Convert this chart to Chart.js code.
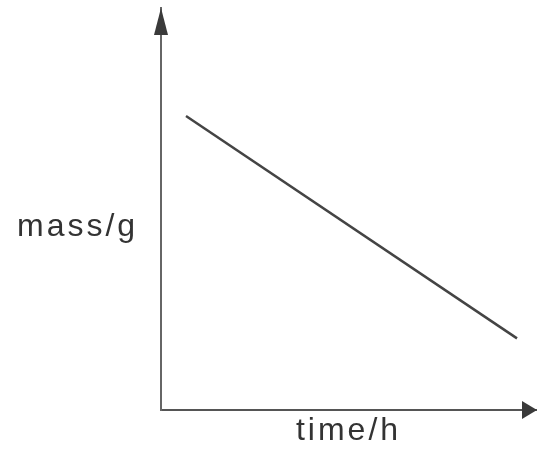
<!DOCTYPE html>
<html>
<head>
<meta charset="utf-8">
<script src="https://cdn.jsdelivr.net/npm/chart.js@4"></script>
<style>
html,body{margin:0;padding:0;background:#fff;}
canvas{display:block;}
</style>
</head>
<body>
<canvas id="c" width="539" height="452"></canvas>
<script>
// Data (qualitative sketch: mass decreasing linearly with time)
const timeValues = [1.0, 14.24];
const massValues = [11.7, 2.85];
const xLabel = 'time/h';
const yLabel = 'mass/g';

const arrowsAndLabel = {
  id: 'arrowsAndLabel',
  beforeDraw(chart) {
    chart.ctx.letterSpacing = '3px';
  },
  afterDraw(chart) {
    const ctx = chart.ctx;
    const xs = chart.scales.x, ys = chart.scales.y;
    const ax = ys.left + ys.width; // y axis position
    const ay = xs.top;             // x axis position
    ctx.save();
    ctx.fillStyle = '#3a3a3a';
    // y arrow
    ctx.beginPath();
    ctx.moveTo(ax, chart.chartArea.top);
    ctx.lineTo(ax - 7, chart.chartArea.top + 27);
    ctx.lineTo(ax + 7, chart.chartArea.top + 27);
    ctx.closePath();
    ctx.fill();
    // x arrow
    ctx.beginPath();
    ctx.moveTo(chart.chartArea.right + 1, ay);
    ctx.lineTo(chart.chartArea.right - 14, ay - 9);
    ctx.lineTo(chart.chartArea.right - 14, ay + 9);
    ctx.closePath();
    ctx.fill();
    // y label (horizontal)
    ctx.letterSpacing = '3px';
    ctx.fillStyle = '#333';
    ctx.font = '32px "Liberation Sans", Arial, sans-serif';
    ctx.textAlign = 'left';
    ctx.textBaseline = 'alphabetic';
    ctx.fillText(yLabel, 17, 236);
    ctx.restore();
  }
};

new Chart(document.getElementById('c'), {
  type: 'scatter',
  data: {
    datasets: [{
      data: timeValues.map((t, i) => ({x: t, y: massValues[i]})),
      showLine: true,
      borderColor: '#444',
      borderWidth: 2.5,
      pointRadius: 0,
      pointHoverRadius: 0
    }]
  },
  options: {
    responsive: false,
    devicePixelRatio: 1,
    animation: false,
    events: [],
    layout: { padding: { left: 161, top: 8, right: 3, bottom: 1.6 } },
    plugins: { legend: { display: false }, tooltip: { enabled: false } },
    scales: {
      x: {
        type: 'linear', min: 0, max: 15,
        ticks: { display: false },
        grid: { display: false, drawTicks: false },
        border: { display: true, color: '#555', width: 2 },
        title: {
          display: true, text: xLabel, color: '#333',
          font: { family: '"Liberation Sans", Arial, sans-serif', size: 32, lineHeight: 1.2 },
          padding: { top: 2, bottom: 0 }
        }
      },
      y: {
        type: 'linear', min: 0, max: 16,
        ticks: { display: false },
        grid: { display: false, drawTicks: false },
        border: { display: true, color: '#666', width: 2 }
      }
    }
  },
  plugins: [arrowsAndLabel]
});
</script>
</body>
</html>
